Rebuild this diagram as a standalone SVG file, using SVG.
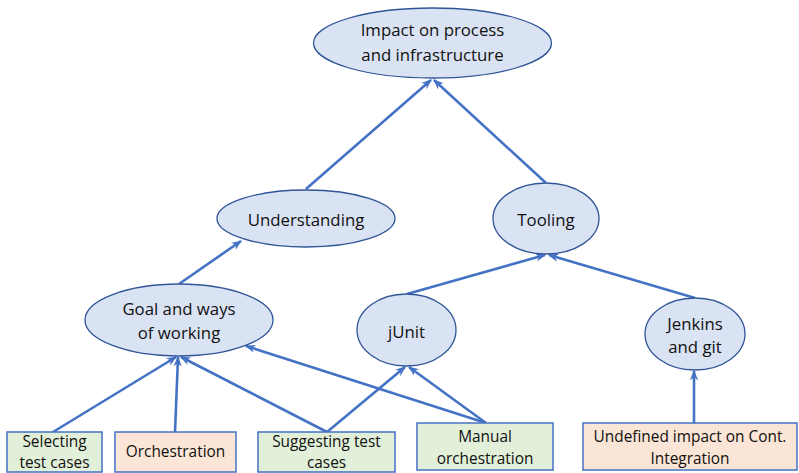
<svg xmlns="http://www.w3.org/2000/svg" width="799" height="473" viewBox="0 0 799 473">
<style>
.ell{fill:#dae3f3;stroke:#2f5597;stroke-width:1.3}
.g{fill:#e2f0d9;stroke:#4472c4;stroke-width:1.5}
.o{fill:#fbe5d6;stroke:#4472c4;stroke-width:1.5}
.t{font-family:"Open Sans","Liberation Sans",sans-serif;fill:#111;text-anchor:middle}
.e{font-size:16.8px}
.b{font-size:15.4px}
.c{fill:none;stroke:#4472c4;stroke-width:2.6;marker-end:url(#ah)}
</style>
<defs>
<marker id="ah" viewBox="0 0 10 10" refX="9" refY="5" markerWidth="4" markerHeight="4" orient="auto" markerUnits="strokeWidth">
<path d="M0,1 L10,5 L0,9 L3,5 Z" fill="#4472c4"/>
</marker>
</defs>
<rect width="799" height="473" fill="#fff"/>
<g id="connectors">
<line class="c" x1="306" y1="189" x2="431" y2="80"/>
<line class="c" x1="546" y1="183" x2="434" y2="80"/>
<line class="c" x1="179" y1="284" x2="241" y2="241"/>
<line class="c" x1="407" y1="294" x2="545" y2="255"/>
<line class="c" x1="695" y1="298" x2="549" y2="255"/>
<line class="c" x1="694" y1="423" x2="694" y2="371"/>
<line class="c" x1="53" y1="432" x2="176" y2="357"/>
<line class="c" x1="175" y1="432" x2="178" y2="357"/>
<line class="c" x1="327" y1="432" x2="181" y2="357"/>
<line class="c" x1="327" y1="432" x2="405" y2="367"/>
<line class="c" x1="486" y1="423" x2="246" y2="346"/>
<line class="c" x1="486" y1="423" x2="409" y2="367"/>
</g>
<g id="impact">
<ellipse class="ell" cx="432.5" cy="43" rx="119" ry="35"/>
<text class="t e" x="432.5" y="36">Impact on process</text>
<text class="t e" x="432.5" y="61">and infrastructure</text>
</g>
<g id="understanding">
<ellipse class="ell" cx="306" cy="218.5" rx="89" ry="28.5"/>
<text class="t e" x="306" y="226">Understanding</text>
</g>
<g id="tooling">
<ellipse class="ell" cx="546" cy="218.5" rx="53" ry="35.5"/>
<text class="t e" x="546" y="226">Tooling</text>
</g>
<g id="goal">
<ellipse class="ell" cx="179" cy="320" rx="94" ry="36"/>
<text class="t e" x="179" y="315">Goal and ways</text>
<text class="t e" x="179" y="339">of working</text>
</g>
<g id="junit">
<ellipse class="ell" cx="406.5" cy="330" rx="49.5" ry="36"/>
<text class="t e" x="406.5" y="338">jUnit</text>
</g>
<g id="jenkins">
<ellipse class="ell" cx="695" cy="334" rx="50" ry="36"/>
<text class="t e" x="695" y="330">Jenkins</text>
<text class="t e" x="695" y="353">and git</text>
</g>
<g id="selecting">
<rect class="g" x="7" y="432" width="95" height="40"/>
<text class="t b" x="54.5" y="447">Selecting</text>
<text class="t b" x="54.5" y="468">test cases</text>
</g>
<g id="orchestration">
<rect class="o" x="115" y="432" width="121" height="40"/>
<text class="t b" x="175.5" y="457">Orchestration</text>
</g>
<g id="suggesting">
<rect class="g" x="258" y="432" width="137" height="40"/>
<text class="t b" x="326.5" y="447">Suggesting test</text>
<text class="t b" x="326.5" y="468">cases</text>
</g>
<g id="manual">
<rect class="g" x="417" y="423" width="136" height="47"/>
<text class="t b" x="485" y="442">Manual</text>
<text class="t b" x="485" y="464">orchestration</text>
</g>
<g id="undefined">
<rect class="o" x="583" y="423" width="214" height="47"/>
<text class="t b" x="690" y="442">Undefined impact on Cont.</text>
<text class="t b" x="690" y="464">Integration</text>
</g>
</svg>
